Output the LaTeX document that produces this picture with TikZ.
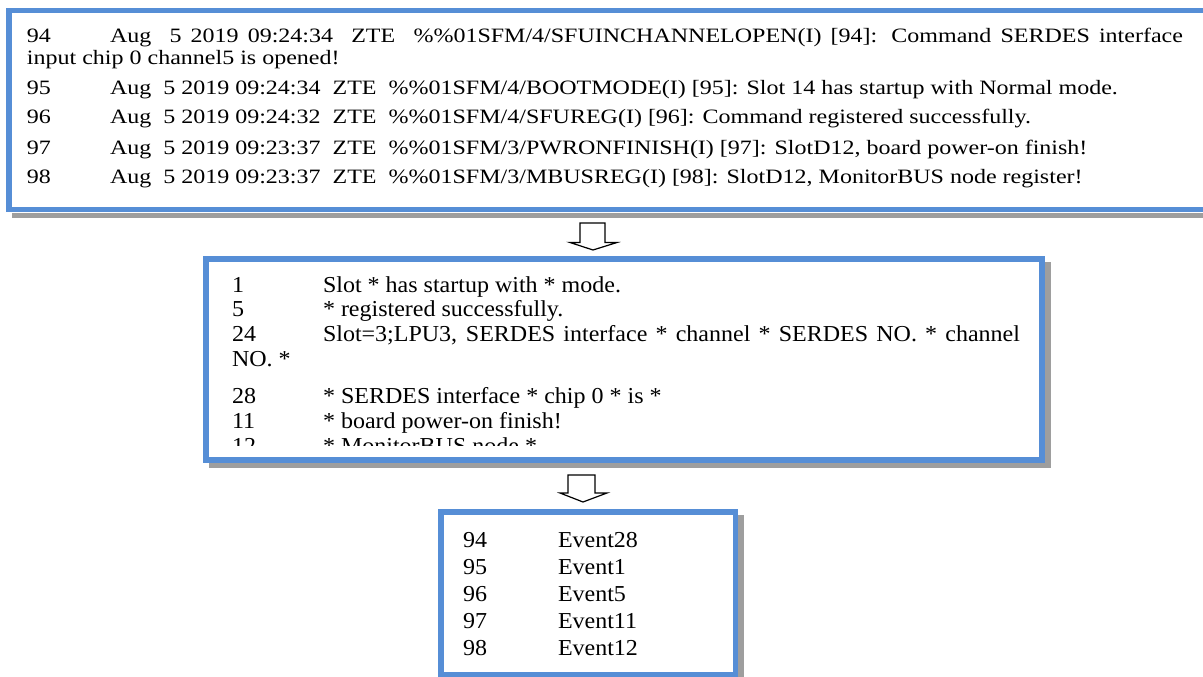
\documentclass[tikz,border=0pt]{standalone}
\usepackage{graphicx}
\usepackage{fontspec}
\setmainfont{Liberation Serif}
\definecolor{bordblue}{RGB}{86,142,214}
\definecolor{shadowgray}{RGB}{158,158,158}
\newcommand{\sqA}[1]{\scalebox{1}[0.85]{#1}}
\newcommand{\sqB}[1]{\scalebox{1}[0.95]{#1}}
\tikzset{
  frame/.style={draw=bordblue, line width=5.5pt, inner sep=0pt, outer sep=0pt, anchor=north west},
  shadowstrip/.style={fill=shadowgray, draw=none},
  txt/.style={anchor=base west, inner sep=0pt, outer sep=0pt, font=\fontsize{24}{28}\selectfont},
  blockarrow/.style={draw=black, line width=1.2pt, fill=white, line join=miter},
}
\begin{document}
\begin{tikzpicture}[x=1pt,y=-1pt]
\clip (0,0) rectangle (1203,677);
\fill[white] (0,0) rectangle (1203,677);
% shadows
\fill[shadowstrip] (12,212.5) rectangle (1203,218);
\fill[shadowstrip] (209,462.5) rectangle (1051,468);
\fill[shadowstrip] (1045,262) rectangle (1051,468);
\fill[shadowstrip] (738,515) rectangle (743.5,679);
% frames
\node[frame, minimum width=1211pt, minimum height=198.5pt] (logbox) at (9,10.75) {};
\node[frame, minimum width=836pt, minimum height=200.75pt] (tplbox) at (206,259) {};
\node[frame, minimum width=294.25pt, minimum height=162.5pt] (evtbox) at (441,511.75) {};
% top box text
\node[txt] (n94) at (27,43) {\sqA{94}};
\node[txt] (l94) at (110,43) {\sqA{\makebox[1073pt][s]{Aug\ \ 5 2019 09:24:34\ \ ZTE\ \ \%\%01SFM/4/SFUINCHANNELOPEN(I) [94]: Command SERDES interface}}};
\node[txt] (l94b) at (27,65) {\sqA{input chip 0 channel5 is opened!}};
\node[txt] (n95) at (27,95) {\sqA{95}};
\node[txt] (l95) at (110,95) {\sqA{Aug\ \ 5 2019 09:24:34\ \ ZTE\ \ \%\%01SFM/4/BOOTMODE(I) [95]: Slot 14 has startup with Normal mode.}};
\node[txt] (n96) at (27,124) {\sqA{96}};
\node[txt] (l96) at (110,124) {\sqA{Aug\ \ 5 2019 09:24:32\ \ ZTE\ \ \%\%01SFM/4/SFUREG(I) [96]: Command registered successfully.}};
\node[txt] (n97) at (27,154) {\sqA{97}};
\node[txt] (l97) at (110,154) {\sqA{Aug\ \ 5 2019 09:23:37\ \ ZTE\ \ \%\%01SFM/3/PWRONFINISH(I) [97]: SlotD12, board power-on finish!}};
\node[txt] (n98) at (27,183) {\sqA{98}};
\node[txt] (l98) at (110,183) {\sqA{Aug\ \ 5 2019 09:23:37\ \ ZTE\ \ \%\%01SFM/3/MBUSREG(I) [98]: SlotD12, MonitorBUS node register!}};
% middle box text
\begin{scope}
\clip (209,262) rectangle (1039,445);
\node[txt] (m1) at (232,292) {\sqB{1}};
\node[txt] (t1) at (323,292) {\sqB{Slot * has startup with * mode.}};
\node[txt] (m5) at (232,316) {\sqB{5}};
\node[txt] (t5) at (323,316) {\sqB{* registered successfully.}};
\node[txt] (m24) at (232,341) {\sqB{24}};
\node[txt] (t24) at (323,341) {\sqB{\makebox[697pt][s]{Slot=3;LPU3, SERDES interface * channel * SERDES NO. * channel}}};
\node[txt] (t24b) at (232,366) {\sqB{NO. *}};
\node[txt] (m28) at (232,403) {\sqB{28}};
\node[txt] (t28) at (323,403) {\sqB{* SERDES interface * chip 0 * is *}};
\node[txt] (m11) at (232,428) {\sqB{11}};
\node[txt] (t11) at (323,428) {\sqB{* board power-on finish!}};
\node[txt] (m12) at (232,453) {\sqB{12}};
\node[txt] (t12) at (323,453) {\sqB{* MonitorBUS node *}};
\end{scope}
% bottom box text
\node[txt] (b94) at (463,547) {\sqB{94}};
\node[txt] (e94) at (558,547) {\sqB{Event28}};
\node[txt] (b95) at (463,574) {\sqB{95}};
\node[txt] (e95) at (558,574) {\sqB{Event1}};
\node[txt] (b96) at (463,601) {\sqB{96}};
\node[txt] (e96) at (558,601) {\sqB{Event5}};
\node[txt] (b97) at (463,628) {\sqB{97}};
\node[txt] (e97) at (558,628) {\sqB{Event11}};
\node[txt] (b98) at (463,655) {\sqB{98}};
\node[txt] (e98) at (558,655) {\sqB{Event12}};
% block arrows
\draw[blockarrow] (580,223) -- (605,223) -- (605,242.5) -- (617,242.5) -- (593,250) -- (570,242.5) -- (580,242.5) -- cycle;
\draw[blockarrow] (568,475) -- (595,475) -- (595,493) -- (607,493) -- (583,502) -- (560,493) -- (568,493) -- cycle;
\end{tikzpicture}
\end{document}
